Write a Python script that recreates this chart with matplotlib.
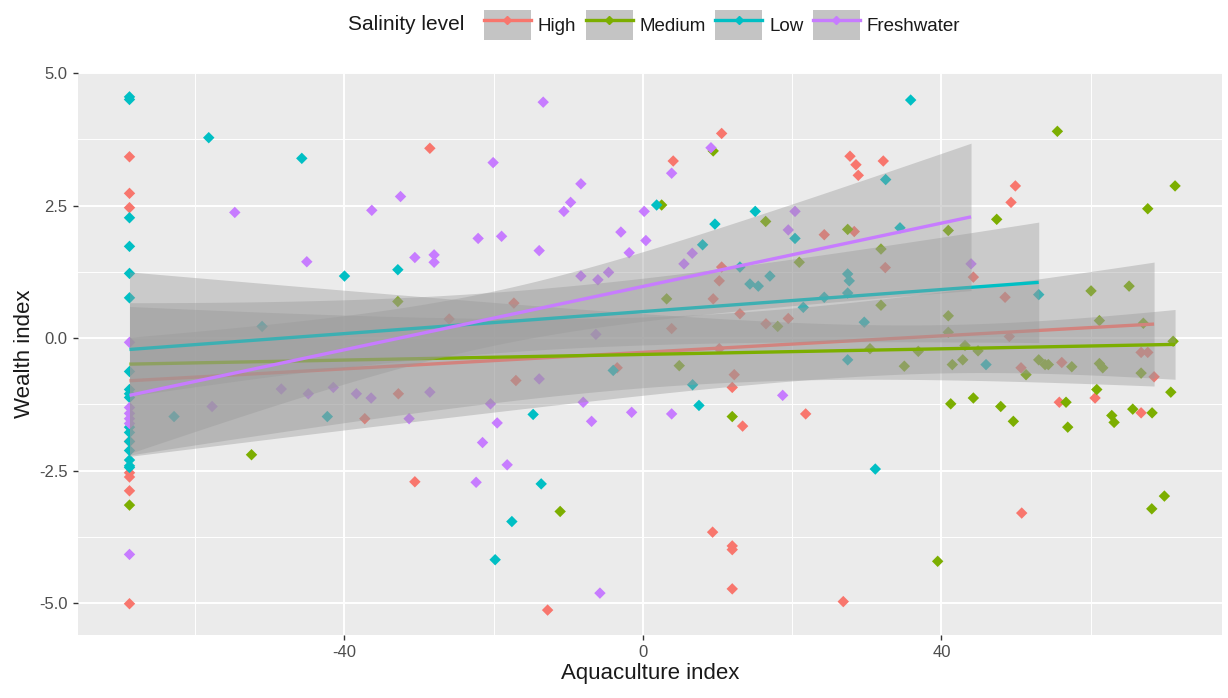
import numpy as np
import matplotlib.pyplot as plt
from matplotlib.patches import Patch
from matplotlib.lines import Line2D

plt.rcParams['font.family'] = ['Liberation Sans', 'DejaVu Sans']
plt.rcParams['axes.unicode_minus'] = False

# data
groups = ['High', 'Medium', 'Low', 'Freshwater']
colors = ['#F8766D', '#7CAE00', '#00BFC4', '#C77CFF']

high_x = [-68.8, -68.8, -68.8, -68.8, -68.8, -68.8, -68.8, -68.8,
          -28.55, -17.29, -25.96, 4.06, 10.55, 10.55, 10.23, 9.42, 13.0, 16.49, 19.48, 3.85,
          10.23, -3.45, -17.02, -32.77, -37.27, -30.56, 12.24, 11.97, 13.36, 21.81, -12.77,
          9.34, 11.97, 11.97, 11.97, 27.75, 28.55, 28.86, 32.21, 49.91, 49.33, 24.30, 28.32,
          32.48, 44.28, 48.53, 49.10, 66.76, 67.65, 50.67, 56.13, 68.50, 60.59, 55.80, 66.76,
          50.76, 26.85]
high_y = [3.42, 2.73, 2.46, -1.95, -2.54, -2.62, -2.88, -5.01,
          3.58, 0.66, 0.36, 3.34, 3.86, 1.34, 1.08, 0.74, 0.46, 0.27, 0.37, 0.18,
          -0.20, -0.56, -0.80, -1.05, -1.52, -2.71, -0.69, -0.93, -1.66, -1.43, -5.13,
          -3.66, -3.92, -3.99, -4.73, 3.43, 3.27, 3.07, 3.34, 2.87, 2.56, 1.95, 2.01,
          1.33, 1.15, 0.77, 0.03, -0.27, -0.27, -0.56, -0.46, -0.73, -1.13, -1.21, -1.41,
          -3.30, -4.97]

medium_x = [-68.8, -32.84, -52.45, 2.51, 9.42, 16.45, 20.95, 3.18, 18.06, 4.87, 11.97, -11.09,
            55.54, 47.41, 67.65, 71.31, 27.44, 40.92, 31.90, 31.90, 60.05, 65.15, 61.17, 40.92,
            40.92, 67.06, 30.43, 36.90, 43.16, 44.91, 71.05, 35.03, 41.46, 42.86, 51.34, 53.04,
            53.89, 54.33, 57.47, 61.17, 61.62, 66.76, 60.82, 70.74, 41.25, 44.28, 47.95, 49.64,
            56.70, 56.93, 62.83, 63.14, 65.64, 68.23, 69.88, 68.19, 39.50]
medium_y = [-3.15, 0.69, -2.20, 2.51, 3.53, 2.20, 1.43, 0.74, 0.22, -0.52, -1.48, -3.27,
            3.90, 2.24, 2.44, 2.87, 2.05, 2.03, 1.68, 0.62, 0.89, 0.98, 0.33, 0.42,
            0.11, 0.28, -0.20, -0.25, -0.14, -0.24, -0.06, -0.53, -0.50, -0.41, -0.69, -0.41,
            -0.50, -0.50, -0.54, -0.48, -0.56, -0.66, -0.97, -1.02, -1.24, -1.13, -1.29, -1.57,
            -1.21, -1.68, -1.46, -1.59, -1.34, -1.41, -2.98, -3.22, -4.21]

low_x = [-68.8, -68.8, -68.8, -68.8, -68.8, -68.8, -68.8, -68.8, -68.8, -68.8, -68.8, -68.8,
         -68.8, -68.8, -68.8, -68.8, -68.8,
         -58.18, -45.71, -39.99, -32.84, -51.03, -62.83, -42.29, 1.84, 15.05, 9.65, 8.00,
         20.38, 13.0, 14.34, 15.46, 17.02, 21.49, -3.98, 6.66, 7.51, -14.71, -13.63, -17.56,
         -19.80, 35.88, 32.53, 34.45, 27.44, 27.65, 27.44, 24.30, 29.66, 53.04, 27.44, 45.98,
         31.14]
low_y = [4.55, 4.50, 2.27, 1.73, 1.22, 0.76, -0.63, -0.97, -1.05, -1.12, -1.68, -1.78,
         -1.95, -2.12, -2.30, -2.41, -2.44,
         3.78, 3.39, 1.17, 1.29, 0.22, -1.48, -1.48, 2.51, 2.39, 2.15, 1.76,
         1.88, 1.34, 1.02, 0.98, 1.17, 0.58, -0.61, -0.88, -1.27, -1.44, -2.75, -3.46,
         -4.18, 4.49, 2.99, 2.08, 1.21, 1.08, 0.85, 0.77, 0.30, 0.82, -0.41, -0.50,
         -2.47]

fresh_x = [-68.8, -68.8, -68.8, -68.8, -68.8, -68.8,
           -54.69, -45.04, -36.33, -32.48, -30.56, -27.98, -27.98, -20.07, -13.36, -8.31,
           -9.69, -10.59, -22.08, -18.94, -13.90, -8.31, -6.03, -4.60, -2.95, -1.84, 0.17,
           0.40, 3.85, 9.12, 6.61, 5.50, 20.38, 19.48, -6.30, -28.55, -13.90, -20.42, -48.46,
           -44.84, -41.49, -38.40, -36.42, -57.73, -31.33, -8.00, -1.51, 3.85, 18.73, -19.53,
           -6.88, -21.49, -18.19, -22.35, -5.76, 43.97]
fresh_y = [-0.08, -1.31, -1.42, -1.52, -1.61, -4.08,
           2.37, 1.44, 2.41, 2.67, 1.52, 1.57, 1.43, 3.31, 4.45, 2.91,
           2.56, 2.39, 1.88, 1.92, 1.65, 1.17, 1.10, 1.24, 2.00, 1.61, 2.39,
           1.84, 3.11, 3.59, 1.60, 1.40, 2.39, 2.04, 0.07, -1.02, -0.77, -1.24, -0.96,
           -1.05, -0.93, -1.05, -1.13, -1.29, -1.52, -1.21, -1.40, -1.43, -1.08, -1.60,
           -1.57, -1.97, -2.39, -2.72, -4.81, 1.40]

data_x = [high_x, medium_x, low_x, fresh_x]
data_y = [high_y, medium_y, low_y, fresh_y]


def t975(df):
    # t quantile approximation (no scipy here)
    z = 1.959964
    return z + (z**3 + z) / (4 * df) + (5 * z**5 + 16 * z**3 + 3 * z) / (96 * df**2)


def lm_band(x, y):
    x = np.asarray(x, float)
    y = np.asarray(y, float)
    n = len(x)
    b, a = np.polyfit(x, y, 1)
    resid = y - (a + b * x)
    s = np.sqrt(np.sum(resid**2) / (n - 2))
    sxx = np.sum((x - x.mean())**2)
    xs = np.linspace(x.min(), x.max(), 80)
    fit = a + b * xs
    se = s * np.sqrt(1.0 / n + (xs - x.mean())**2 / sxx)
    t = t975(n - 2)
    return xs, fit, fit - t * se, fit + t * se


fig = plt.figure(figsize=(12.28, 6.98), dpi=100)
ax = fig.add_axes([78 / 1228, 1 - 635 / 698, (1222 - 78) / 1228, (635 - 73) / 698])
ax.set_facecolor('#EBEBEB')
for s in ax.spines.values():
    s.set_visible(False)

# points under the smooth layer
for gx, gy, c in zip(data_x, data_y, colors):
    ax.scatter(gx, gy, s=34, marker='D', color=c, edgecolors='none', zorder=3)

z = 4
for gx, gy, c in zip(data_x, data_y, colors):
    xs, fit, lo, hi = lm_band(gx, gy)
    ax.fill_between(xs, lo, hi, color='#999999', alpha=0.4, lw=0, zorder=z)
    ax.plot(xs, fit, color=c, lw=2.4, zorder=z + 0.5, solid_capstyle='butt')
    z += 1

ax.set_xlim(-75.7, 77.6)
ax.set_ylim(-5.6, 4.99)
ax.set_xticks([-40, 0, 40])
ax.set_xticks([-60, -20, 20, 60], minor=True)
ax.set_yticks([-5, -2.5, 0, 2.5, 5])
ax.set_yticks([-3.75, -1.25, 1.25, 3.75], minor=True)
ax.set_yticklabels(['-5.0', '-2.5', '0.0', '2.5', '5.0'])
ax.grid(which='major', color='white', lw=1.4, zorder=0)
ax.grid(which='minor', color='white', lw=0.7, zorder=0)
ax.set_axisbelow(True)
ax.tick_params(which='major', length=3.5, width=1, color='#333333', labelcolor='#4D4D4D',
               labelsize=12, pad=4)
ax.tick_params(which='minor', length=0)
ax.set_xlabel('Aquaculture index', fontsize=16, color='#1A1A1A', labelpad=2)
ax.set_ylabel('Wealth index', fontsize=16, color='#1A1A1A', labelpad=3)

# legend on top
handles = []
for c in colors:
    handles.append((Patch(facecolor='#C4C4C4', edgecolor='none'),
                    Line2D([], [], color=c, lw=2.4, marker='D', ms=4.5)))
fig.text(348 / 1228, 1 - 25 / 698, 'Salinity level', fontsize=15, va='center', ha='left',
         color='#1A1A1A')
fig.legend(handles, groups, loc='center left', bbox_to_anchor=(484 / 1228, 1 - 25 / 698),
           ncol=4, frameon=False, fontsize=13.5, handlelength=2.5, handleheight=2.15,
           handletextpad=0.37, columnspacing=0.5, borderpad=0, borderaxespad=0,
           labelcolor='#1A1A1A')

fig.savefig('out.png', dpi=100)
